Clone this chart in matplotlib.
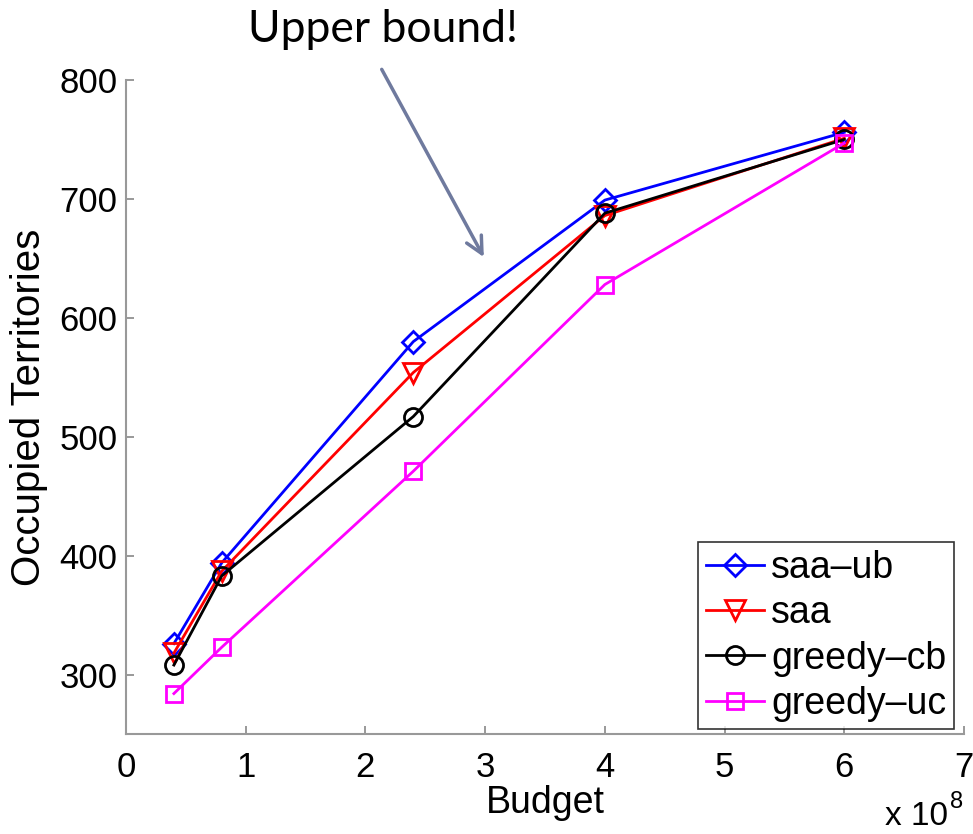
import matplotlib
matplotlib.use("Agg")
import matplotlib.pyplot as plt

# Budget values (x 10^8) and occupied territories per method
budget = [0.4, 0.8, 2.4, 4.0, 6.0]
saa_ub = [326, 394, 580, 699, 756]
saa = [318, 387, 554, 686, 751]
greedy_cb = [308, 383, 517, 688, 750]
greedy_uc = [284, 323, 471, 628, 747]

series_names = ["saa\u2013ub", "saa", "greedy\u2013cb", "greedy\u2013uc"]
xticks = [0, 1, 2, 3, 4, 5, 6, 7]
yticks = [300, 400, 500, 600, 700, 800]

plt.rcParams["font.family"] = ["Liberation Sans", "DejaVu Sans"]

fig = plt.figure(figsize=(9.73, 8.34), dpi=100)
ax = fig.add_axes([126 / 973, 1 - 734 / 834, 838 / 973, 654 / 834])

styles = [
    (saa_ub, "#0000ff", "D", 11),
    (saa, "#ff0000", "v", 14),
    (greedy_cb, "#000000", "o", 13),
    (greedy_uc, "#ff00ff", "s", 11),
]
for (vals, col, mk, ms), name in zip(styles, series_names):
    ax.plot(budget, vals, color=col, lw=2.0, marker=mk, markersize=ms,
            markerfacecolor="none", markeredgecolor=col, markeredgewidth=2.0,
            label=name)

ax.set_xlim(0, 7)
ax.set_ylim(250, 800)
ax.set_xticks(xticks)
ax.set_yticks(yticks)
ax.tick_params(direction="in", length=6, width=1.2, labelsize=25,
               colors="#888888", labelcolor="black")
ax.tick_params(axis="y", pad=6)
ax.tick_params(axis="x", pad=12)
for side in ("top", "right"):
    ax.spines[side].set_visible(False)
for side in ("left", "bottom"):
    ax.spines[side].set_color("#999999")
    ax.spines[side].set_linewidth(1.5)

ax.set_xlabel("Budget", fontsize=27, labelpad=1)
ax.set_ylabel("Occupied Territories", fontsize=29, labelpad=8)

# exponent note for the x axis
fig.text(948 / 973, 1 - 825 / 834, "x 10", fontsize=24,
         ha="right", va="baseline")
fig.text(950 / 973, 1 - 808 / 834, "8", fontsize=17,
         ha="left", va="baseline")

leg = ax.legend(loc="lower right", bbox_to_anchor=(0.988, 0.007),
                fontsize=27, frameon=True, fancybox=False,
                handlelength=1.55, handletextpad=0.2, labelspacing=0.25,
                borderpad=0.2, borderaxespad=0.0)
leg.get_frame().set_edgecolor("black")
leg.get_frame().set_linewidth(1.2)

fig.text(383 / 973, 1 - 30 / 834, "Upper bound!", fontsize=32,
         family=["Lato", "DejaVu Sans"], ha="center", va="center")
ax.annotate("", xy=(3.0, 649), xytext=(2.125, 811), annotation_clip=False,
            arrowprops=dict(arrowstyle="->", color="#6f7a9e", lw=2.5,
                            mutation_scale=30))

fig.savefig("out.png", dpi=100)
